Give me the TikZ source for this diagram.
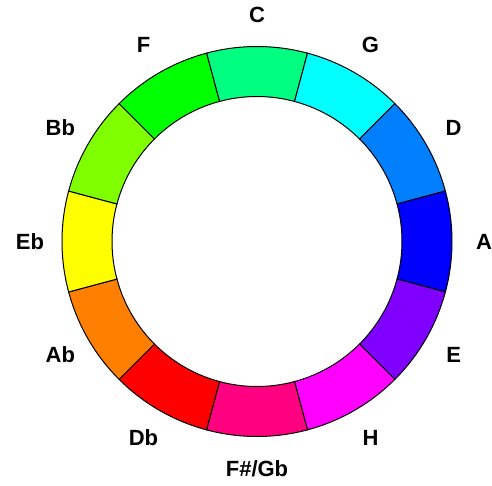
\documentclass[tikz,border=0pt]{standalone}
\usepackage{fontspec}
\setmainfont{Liberation Sans}
\begin{document}
\begin{tikzpicture}[x=1pt,y=1pt,
	segment/.style={draw=black,line width=1pt},
	notename/.style={font=\bfseries\fontsize{22}{22}\selectfont}]
	% frame of the picture
	\useasboundingbox (-257,-243.5) rectangle (235,241.5);
	% ring of the twelve notes, clockwise from the top
	\foreach \ang/\col/\lab [count=\i] in {90/{0,255,128}/C, 60/{0,255,255}/G,
			30/{0,128,255}/D, 0/{0,0,255}/A, -30/{128,0,255}/E, -60/{255,0,255}/H,
			-90/{255,0,128}/{F\#/Gb}, -120/{255,0,0}/Db, -150/{255,128,0}/Ab,
			-180/{255,255,0}/Eb, -210/{128,255,0}/Bb, -240/{0,255,0}/F} {
		\definecolor{segcol}{RGB}{\col}
		\draw[segment,fill=segcol] (\ang-15:145) arc (\ang-15:\ang+15:145)
			-- (\ang+15:195) arc (\ang+15:\ang-15:195) -- cycle;
		% note name
		\node[notename] (note\i) at (\ang:227) {\lab};
	}
\end{tikzpicture}
\end{document}
